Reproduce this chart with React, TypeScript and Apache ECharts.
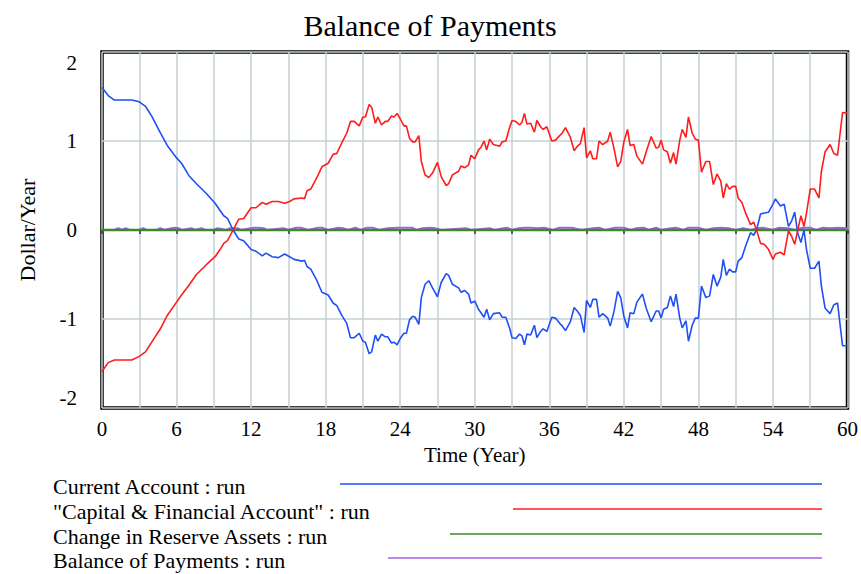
import React, { useEffect, useRef } from "react";
import * as echarts from "echarts";

const timeYears = [
  0, 0.5, 1.0, 2.4, 3.0, 3.5, 4.0, 4.7, 5.25, 6.0, 6.4, 7.0, 7.6, 8.4, 9.1, 9.5, 9.8, 10.1, 10.55, 11.0,
  11.4, 12.0, 12.4, 12.9, 13.2, 13.7, 14.2, 14.7, 15.1, 15.45, 16.1, 16.3, 16.5, 16.8, 17.3, 17.7, 18.2, 18.6, 18.9, 19.3,
  19.7, 20.0, 20.3, 20.7, 21.0, 21.2, 21.5, 21.7, 22.0, 22.2, 22.5, 22.8, 23.0, 23.3, 23.5, 23.75, 24.0, 24.3, 24.5, 24.75,
  25.0, 25.2, 25.5, 25.7, 26.0, 26.3, 26.6, 27.0, 27.3, 27.7, 27.9, 28.2, 28.7, 28.9, 29.2, 29.5, 29.7, 30.0, 30.3, 30.5,
  30.75, 30.96, 31.2, 31.5, 32.0, 32.2, 32.5, 32.8, 33.0, 33.3, 33.6, 33.8, 34.0, 34.2, 34.5, 34.8, 35.0, 35.3, 35.5, 35.8,
  36.2, 36.5, 36.9, 37.0, 37.3, 37.7, 38.0, 38.25, 38.5, 38.8, 39.0, 39.3, 39.5, 39.8, 40.0, 40.3, 40.7, 40.9, 41.2, 41.5,
  41.75, 42.0, 42.3, 42.5, 42.8, 43.05, 43.5, 43.8, 44.2, 44.6, 44.8, 45.0, 45.2, 45.5, 45.75, 46.0, 46.2, 46.5, 46.7, 47.0,
  47.2, 47.5, 47.75, 48.0, 48.25, 48.6, 48.9, 49.2, 49.5, 49.8, 50.0, 50.25, 50.5, 50.75, 51.0, 51.2, 51.5, 51.8, 52.2, 52.45,
  52.7, 53.0, 53.3, 53.65, 54.0, 54.2, 54.6, 54.9, 55.25, 55.5, 55.75, 56.0, 56.25, 56.5, 56.7, 57.0, 57.35, 57.7, 57.9, 58.2,
  58.6, 58.9, 59.2, 59.6, 60.0,
];

const capitalAccount = [
  -1.59, -1.49, -1.46, -1.46, -1.42, -1.37, -1.26, -1.11, -0.96, -0.81, -0.73, -0.62, -0.5, -0.39, -0.3, -0.22, -0.15, -0.12, 0.0, 0.12,
  0.13, 0.25, 0.25, 0.31, 0.29, 0.32, 0.32, 0.3, 0.32, 0.35, 0.36, 0.35, 0.44, 0.46, 0.59, 0.71, 0.75, 0.85, 0.86, 0.98,
  1.09, 1.22, 1.22, 1.17, 1.27, 1.27, 1.41, 1.38, 1.2, 1.27, 1.18, 1.22, 1.22, 1.28, 1.27, 1.31, 1.25, 1.17, 1.17, 1.03,
  0.99, 0.99, 1.06, 0.77, 0.62, 0.59, 0.64, 0.76, 0.6, 0.5, 0.52, 0.62, 0.66, 0.72, 0.7, 0.73, 0.84, 0.8, 0.9, 0.93,
  1.0, 0.9, 1.02, 0.96, 0.94, 0.99, 1.0, 1.15, 1.23, 1.22, 1.18, 1.21, 1.31, 1.19, 1.2, 1.1, 1.23, 1.16, 1.13, 1.16,
  1.0, 1.01, 1.07, 1.08, 1.15, 1.04, 0.89, 0.94, 0.97, 1.15, 0.81, 0.89, 0.8, 0.8, 1.0, 0.96, 1.0, 1.1, 0.92, 0.71,
  0.77, 0.99, 1.13, 0.95, 0.96, 0.83, 0.74, 0.88, 1.05, 0.92, 0.93, 1.01, 0.9, 0.88, 0.75, 0.87, 0.74, 1.01, 1.13, 1.04,
  1.27, 1.09, 1.02, 1.01, 0.65, 0.77, 0.77, 0.51, 0.63, 0.55, 0.36, 0.52, 0.46, 0.49, 0.49, 0.36, 0.31, 0.19, 0.06, 0.09,
  -0.01, -0.15, -0.16, -0.22, -0.33, -0.27, -0.25, -0.28, -0.01, -0.07, -0.16, 0.0, 0.16, 0.04, 0.19, 0.46, 0.46, 0.36, 0.66, 0.88,
  0.96, 0.86, 0.84, 1.32, 1.31,
];

const currentAccount = [
  1.6, 1.51, 1.46, 1.46, 1.44, 1.39, 1.28, 1.09, 0.95, 0.81, 0.75, 0.61, 0.52, 0.41, 0.3, 0.22, 0.16, 0.13, 0.0, -0.1,
  -0.12, -0.22, -0.24, -0.29, -0.26, -0.3, -0.31, -0.27, -0.3, -0.33, -0.35, -0.34, -0.41, -0.44, -0.57, -0.7, -0.73, -0.82, -0.85, -0.96,
  -1.05, -1.21, -1.21, -1.16, -1.25, -1.26, -1.39, -1.37, -1.18, -1.25, -1.17, -1.2, -1.2, -1.27, -1.26, -1.29, -1.22, -1.16, -1.16, -1.01,
  -0.97, -0.98, -1.06, -0.76, -0.61, -0.57, -0.65, -0.75, -0.59, -0.49, -0.51, -0.61, -0.65, -0.7, -0.68, -0.72, -0.82, -0.8, -0.89, -0.93,
  -0.98, -0.89, -1.01, -0.94, -0.93, -0.98, -0.98, -1.1, -1.21, -1.22, -1.17, -1.19, -1.29, -1.17, -1.18, -1.07, -1.21, -1.14, -1.11, -1.14,
  -0.98, -0.99, -1.06, -1.07, -1.13, -1.03, -0.87, -0.91, -0.96, -1.15, -0.79, -0.87, -0.78, -0.78, -0.98, -0.94, -0.99, -1.08, -0.92, -0.69,
  -0.76, -0.97, -1.1, -0.93, -0.94, -0.81, -0.72, -0.88, -1.03, -0.91, -0.91, -0.99, -0.89, -0.87, -0.74, -0.86, -0.72, -0.99, -1.1, -1.02,
  -1.25, -1.07, -0.99, -0.99, -0.63, -0.76, -0.74, -0.5, -0.63, -0.53, -0.33, -0.51, -0.44, -0.47, -0.47, -0.35, -0.31, -0.18, -0.03, -0.06,
  0.01, 0.18, 0.19, 0.2, 0.29, 0.35, 0.27, 0.29, 0.04, 0.1, 0.2, -0.04, -0.14, 0.0, -0.22, -0.43, -0.43, -0.35, -0.63, -0.88,
  -0.94, -0.84, -0.82, -1.3, -1.3,
];

const reserveTimes = [0, 60];
const reserveValues = [0, 0];

const balanceTimes = [
  0, 1.0, 1.3, 1.6, 1.9, 2.2, 3.0, 3.3, 3.6, 4.4, 4.7, 5.0, 5.6, 5.9, 6.2, 6.4, 7.2, 7.5, 8.0, 8.3,
  9.0, 9.3, 10.0, 10.3, 10.9, 11.2, 12.2, 12.5, 13.0, 13.3, 14.6, 15.0, 15.6, 16.0, 16.6, 17.4, 17.7, 18.2, 19.0, 19.4,
  19.8, 20.4, 20.8, 21.3, 21.8, 22.3, 23.0, 23.8, 25.0, 25.3, 25.8, 26.4, 26.8, 27.3, 29.3, 29.7, 31.2, 31.6, 32.3, 32.6,
  33.0, 33.5, 34.0, 34.5, 35.0, 35.6, 36.3, 36.8, 37.8, 38.6, 39.5, 40.0, 40.5, 41.3, 42.0, 42.6, 43.0, 43.6, 44.0, 44.6,
  45.0, 45.8, 46.2, 46.8, 47.2, 48.0, 48.6, 49.2, 49.8, 50.4, 51.0, 51.6, 52.2, 52.8, 53.2, 54.0, 54.5, 55.2, 55.8, 56.4,
  57.0, 57.5, 58.0, 58.6, 59.2, 60.0,
];
const balanceValues = [
  0, 0, 0.02, 0, 0.02, 0, 0, 0.02, 0, 0, 0.02, 0, 0.02, 0.025, 0.02, 0, 0.02, 0, 0.02, 0,
  0, 0.02, 0, 0.02, 0.02, 0, 0.025, 0.025, 0.02, 0, 0.02, 0, 0.025, 0.025, 0, 0.025, 0.025, 0, 0.025, 0.02,
  0, 0.025, 0, 0.025, 0.025, 0, 0.02, 0.025, 0.025, 0, 0.02, 0.025, 0.02, 0, 0.02, 0, 0.02, 0, 0.02, 0.025,
  0, 0.02, 0.025, 0.025, 0.02, 0.025, 0, 0.025, 0.025, 0, 0.02, 0.025, 0, 0.025, 0.025, 0, 0.02, 0.025, 0, 0.025,
  0, 0.02, 0.025, 0, 0.025, 0.025, 0, 0.02, 0.025, 0.02, 0, 0.02, 0, 0.02, 0.025, 0, 0.025, 0.02, 0, 0.025,
  0.025, 0, 0.025, 0.02, 0.025, 0.02,
];

const xTicks = [0, 6, 12, 18, 24, 30, 36, 42, 48, 54, 60];

const titleText = "Balance of Payments";
const yAxisName = "Dollar/Year";
const xAxisName = "Time (Year)";
const legendNames = [
  "Current Account : run",
  "\"Capital & Financial Account\" : run",
  "Change in Reserve Assets : run",
  "Balance of Payments : run",
];

const FONT = "'Liberation Serif', 'Times New Roman', serif";
const BLUE = "#1f4ff5";
const RED = "#ff1c1c";
const GREEN = "#3a8a2a";
const PURPLE = "#a45ee8";

function pairs(xs: number[], ys: number[]) {
  return xs.map((x, i) => [x, ys[i]]);
}

export default function App() {
  const ref = useRef<HTMLDivElement>(null);
  useEffect(() => {
    document.body.style.margin = "0";
    if (!ref.current) return;
    const chart = echarts.init(ref.current, undefined, { renderer: "svg" });

    const legendColors = [BLUE, RED, GREEN, PURPLE];
    const legendLineStart = [340, 513, 450, 388];
    const legendY = [484, 509, 534, 558];
    const legendGraphics: any[] = [];
    legendNames.forEach((name, i) => {
      legendGraphics.push({
        type: "text",
        left: 53,
        top: legendY[i] - 9,
        style: { text: name, font: `22px ${FONT}`, fill: "#000" },
      });
      legendGraphics.push({
        type: "line",
        shape: { x1: legendLineStart[i], y1: legendY[i], x2: 822, y2: legendY[i] },
        style: { stroke: legendColors[i], lineWidth: 1.5 },
      });
    });

    const lineSeries = (name: string, data: number[][], color: string, width: number, z: number) => ({
      name,
      type: "line",
      data,
      showSymbol: false,
      symbol: "none",
      z,
      lineStyle: { color, width },
      itemStyle: { color },
    });

    chart.setOption({
      animation: false,
      title: {
        text: titleText,
        left: 425,
        top: 5,
        textAlign: "center",
        textStyle: { fontFamily: FONT, fontSize: 30, fontWeight: "normal", color: "#000" },
      },
      grid: {
        left: 102,
        right: 13,
        top: 52,
        bottom: 166,
        show: true,
        borderColor: "#000",
        borderWidth: 3.5,
        backgroundColor: "transparent",
      },
      xAxis: {
        type: "value",
        min: 0,
        max: 60,
        interval: 3,
        name: xAxisName,
        nameLocation: "middle",
        nameGap: 36,
        nameTextStyle: { fontFamily: FONT, fontSize: 21, color: "#000" },
        axisLine: { show: false },
        axisTick: { show: true, length: 4, lineStyle: { color: "#333", width: 1.5 } },
        axisLabel: {
          fontFamily: FONT,
          fontSize: 21,
          color: "#000",
          margin: 10,
          formatter: (v: number) => (xTicks.includes(v) ? String(v) : ""),
        },
        splitLine: { show: true, lineStyle: { color: "#c7d0d4", width: 1.5 } },
      },
      yAxis: {
        type: "value",
        min: -2,
        max: 2,
        interval: 1,
        name: yAxisName,
        nameLocation: "middle",
        nameGap: 64,
        nameRotate: 90,
        nameTextStyle: { fontFamily: FONT, fontSize: 22, color: "#000" },
        axisLine: { show: false },
        axisTick: { show: false },
        axisLabel: {
          fontFamily: FONT,
          fontSize: 21,
          color: "#000",
          margin: 25,
          verticalAlignMaxLabel: "top",
          verticalAlignMinLabel: "bottom",
        },
        splitLine: { show: true, lineStyle: { color: "#c7d0d4", width: 1.5 } },
      },
      series: [
        lineSeries(legendNames[3], pairs(balanceTimes, balanceValues), PURPLE, 2, 2),
        lineSeries(legendNames[2], pairs(reserveTimes, reserveValues), GREEN, 2.5, 3),
        lineSeries(legendNames[0], pairs(timeYears, currentAccount), BLUE, 1.6, 4),
        lineSeries(legendNames[1], pairs(timeYears, capitalAccount), RED, 1.6, 5),
      ],
      graphic: legendGraphics,
    });

    return () => chart.dispose();
  }, []);

  return <div ref={ref} style={{ width: 861, height: 574 }} />;
}
